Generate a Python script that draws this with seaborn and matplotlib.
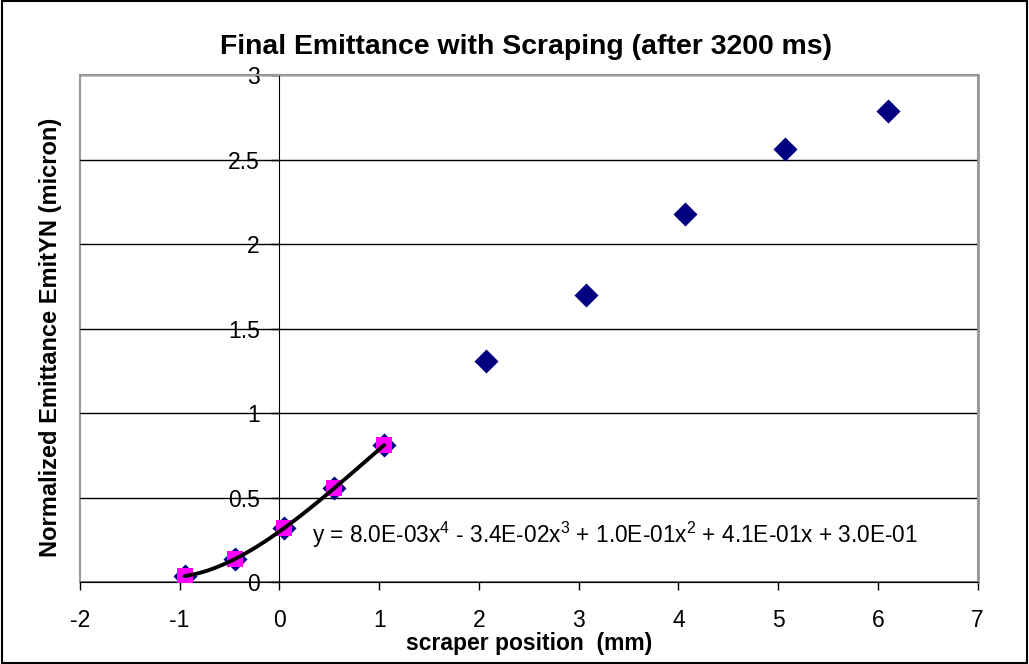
import numpy as np
import pandas as pd
import matplotlib
matplotlib.use("Agg")
import matplotlib.pyplot as plt
from matplotlib.patches import Rectangle
import seaborn as sns

# Data
scraper_pos = [-0.95, -0.45, 0.05, 0.55, 1.05, 2.07, 3.07, 4.07, 5.07, 6.1]
emittance = [0.035, 0.135, 0.32, 0.555, 0.81, 1.31, 1.70, 2.18, 2.56, 2.79]
fit_count = 5  # first five points used for trendline
eq_text = ("y = 8.0E-03x$^4$ - 3.4E-02x$^3$ + 1.0E-01x$^2$ + 4.1E-01x + 3.0E-01")
x_ticks = [-2, -1, 0, 1, 2, 3, 4, 5, 6, 7]
y_ticks = [0, 0.5, 1, 1.5, 2, 2.5, 3]

sns.set_style("white")
plt.rcParams['font.family'] = ['Liberation Sans', 'DejaVu Sans']
plt.rcParams['mathtext.fontset'] = 'custom'
plt.rcParams['mathtext.rm'] = 'Liberation Sans'
plt.rcParams['text.color'] = 'black'
plt.rcParams['xtick.color'] = 'black'
plt.rcParams['ytick.color'] = 'black'
plt.rcParams['axes.labelcolor'] = 'black'

df = pd.DataFrame({"x": scraper_pos, "y": emittance})
fit_df = df.iloc[:fit_count]
coef = np.polyfit(fit_df["x"], fit_df["y"], 4)
xs = np.linspace(fit_df["x"].min(), fit_df["x"].max(), 100)
line_df = pd.DataFrame({"x": xs, "y": np.polyval(coef, xs)})

fig = plt.figure(figsize=(10.29, 6.64), dpi=100)
ax = fig.add_axes([0.0777, 0.1235, 0.8723, 0.7635])

sns.scatterplot(data=df, x="x", y="y", marker="D", s=150, color="#000080",
                edgecolor="#000080", linewidth=0, ax=ax, zorder=3)
sns.scatterplot(data=fit_df, x="x", y="y", marker="s", s=120, color="#FF00FF",
                edgecolor="#FF00FF", linewidth=0, ax=ax, zorder=4)
sns.lineplot(data=line_df, x="x", y="y", color="black", linewidth=2.8, ax=ax, zorder=5)

ax.set_xlim(-2, 7)
ax.set_ylim(0, 3)
ax.set_xticks(x_ticks)
ax.set_yticks(y_ticks)
ax.set_xticklabels([str(t) for t in x_ticks])
ax.set_yticklabels([("%g" % t) for t in y_ticks])

ax.spines['left'].set_position(('data', 0))
ax.spines['left'].set_color('black')
ax.spines['bottom'].set_color('black')
ax.spines['top'].set_color('#999999')
ax.spines['right'].set_color('#999999')
ax.spines['right'].set_linewidth(2)
ax.spines['top'].set_linewidth(1.5)
ax.add_patch(Rectangle((0, 0), 1, 1, transform=ax.transAxes, fill=False,
                       edgecolor='#999999', linewidth=1.5, zorder=0, clip_on=False))
ax.yaxis.grid(True, color='black', linewidth=1)
ax.set_axisbelow(True)
ax.tick_params(axis='both', which='both', direction='out', length=5.5, width=1,
               color='black', left=True, bottom=True, labelsize=16.5, labelcolor='black')
ax.tick_params(axis='x', pad=14)
ax.tick_params(axis='y', pad=8.5)

ax.set_xlabel("scraper position  (mm)", fontsize=16.5, fontweight='bold', labelpad=0,
              color='black')
ax.set_ylabel("")
fig.text(0.0486, 0.492, "Normalized Emittance EmitYN (micron)", rotation=90,
         fontsize=17, fontweight='bold', ha='center', va='center', color='black')
fig.text(0.511, 0.929, "Final Emittance with Scraping (after 3200 ms)",
         fontsize=20.4, fontweight='bold', ha='center', va='center', color='black')
ax.text(0.33, 0.28, eq_text, fontsize=16.3, ha='left', va='center', color='black')

fig.patches.append(Rectangle((0.0015, 0.002), 0.997, 0.996, transform=fig.transFigure,
                             fill=False, edgecolor='black', linewidth=1.5))

fig.savefig("out.png", dpi=100)
